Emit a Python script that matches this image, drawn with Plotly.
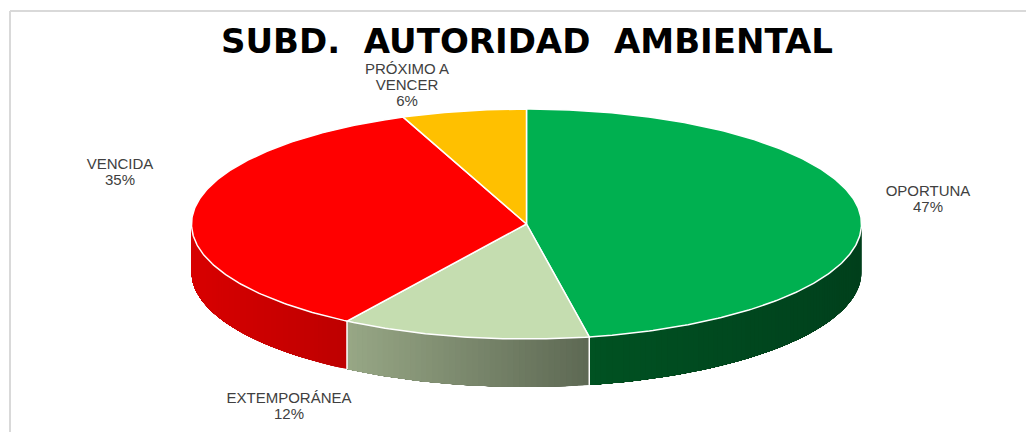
import math
import plotly.graph_objects as go

# ---- data
categories = ["OPORTUNA", "EXTEMPORÁNEA", "VENCIDA", "PRÓXIMO A VENCER"]
values = [47, 12, 35, 6]
label_lines = [["OPORTUNA"], ["EXTEMPORÁNEA"], ["VENCIDA"], ["PRÓXIMO A", "VENCER"]]
top_colors = ["#00B050", "#C5DDB0", "#FF0000", "#FFC000"]
side_left = ["#005222", "#98A886", "#D80000", "#BF9000"]
side_right = ["#00401C", "#5E6954", "#BE0000", "#BF9000"]
title = "SUBD.  AUTORIDAD  AMBIENTAL"

# ---- layout constants (axes scaled to page pixels; the page body has an 8px margin)
W, H, BODY = 1034, 432, 8
CX, CY, RX, RY, DEPTH = 526.5, 224, 335, 115, 48
label_first_row = [(928, 192), (289, 399), (120, 165), (407, 70)]
LINE_STEP = 16


def pt(deg, dy=0):
    a = math.radians(deg)
    return CX + RX * math.sin(a), CY - RY * math.cos(a) + dy


def hex2rgb(h):
    return tuple(int(h[i:i + 2], 16) for i in (1, 3, 5))


def mix(c1, c2, t):
    a, b = hex2rgb(c1), hex2rgb(c2)
    return "rgb(%d,%d,%d)" % tuple(round(a[i] + (b[i] - a[i]) * t) for i in range(3))


total = sum(values)
edges = [0]
for v in values:
    edges.append(edges[-1] + v / total * 360)

fig = go.Figure()


def poly(xs, ys, fill, line=None, width=0):
    fig.add_trace(go.Scatter(
        x=xs, y=ys, mode="lines", fill="toself", fillcolor=fill,
        line=dict(color=line or fill, width=width), hoverinfo="skip", showlegend=False))


# side wall: overlapping strips painted in order, so it carries a smooth horizontal gradient
for i, v in enumerate(values):
    a0, a1 = max(edges[i], 90), min(edges[i + 1], 270)
    if a1 <= a0:
        continue
    n = max(2, int(a1 - a0))
    x_a, x_b = pt(a1)[0], pt(a0)[0]
    for k in range(n):
        s0 = a0 + (a1 - a0) * k / n
        # each strip reaches to the far end of the slice; the next one paints over it
        steps = [s0 + (a1 - s0) * q / 40 for q in range(41)]
        top = [pt(s) for s in steps]
        xs = [p[0] for p in top] + [p[0] for p in reversed(top)]
        ys = [p[1] for p in top] + [p[1] + DEPTH for p in reversed(top)]
        p_m = pt(s0)
        t = (p_m[0] - x_a) / (x_b - x_a) if x_b != x_a else 0
        poly(xs, ys, mix(side_left[i], side_right[i], t))

# white seams on the wall
for e in edges:
    if 90 < e < 270:
        p = pt(e)
        fig.add_trace(go.Scatter(x=[p[0], p[0]], y=[p[1], p[1] + DEPTH], mode="lines",
                                 line=dict(color="white", width=1.5),
                                 hoverinfo="skip", showlegend=False))

# top face
for i, v in enumerate(values):
    n = max(4, int((edges[i + 1] - edges[i]) * 1.5))
    pts = [pt(edges[i] + (edges[i + 1] - edges[i]) * k / n) for k in range(n + 1)]
    xs = [CX] + [p[0] for p in pts] + [CX]
    ys = [CY] + [p[1] for p in pts] + [CY]
    poly(xs, ys, top_colors[i], line="white", width=1.5)

# data labels
tx, ty, tt = [], [], []
for lines, v, (lx, ly) in zip(label_lines, values, label_first_row):
    rows = lines + ["%d%%" % round(v / total * 100)]
    for j, r in enumerate(rows):
        tx.append(lx)
        ty.append(ly + j * LINE_STEP)
        tt.append(r)
fig.add_trace(go.Scatter(x=tx, y=ty, text=tt, mode="text", textposition="middle center",
                         textfont=dict(family="Liberation Sans", size=15, color="#404040"),
                         hoverinfo="skip", showlegend=False))

fig.update_layout(
    width=W - BODY, height=H - BODY, margin=dict(l=0, r=0, t=0, b=0),
    paper_bgcolor="white", plot_bgcolor="white",
    xaxis=dict(range=[BODY, W], visible=False, fixedrange=True),
    yaxis=dict(range=[H, BODY], visible=False, fixedrange=True),
    shapes=[
        dict(type="line", x0=10, x1=W, y0=11, y1=11, line=dict(color="#D9D9D9", width=2)),
        dict(type="line", x0=10, x1=10, y0=11, y1=H, line=dict(color="#D9D9D9", width=2)),
    ],
    annotations=[dict(x=527, y=41, text="<b>%s</b>" % title, showarrow=False,
                      xanchor="center", yanchor="middle",
                      font=dict(family="DejaVu Sans", size=34, color="black"))],
)
fig.write_html("out.html")
